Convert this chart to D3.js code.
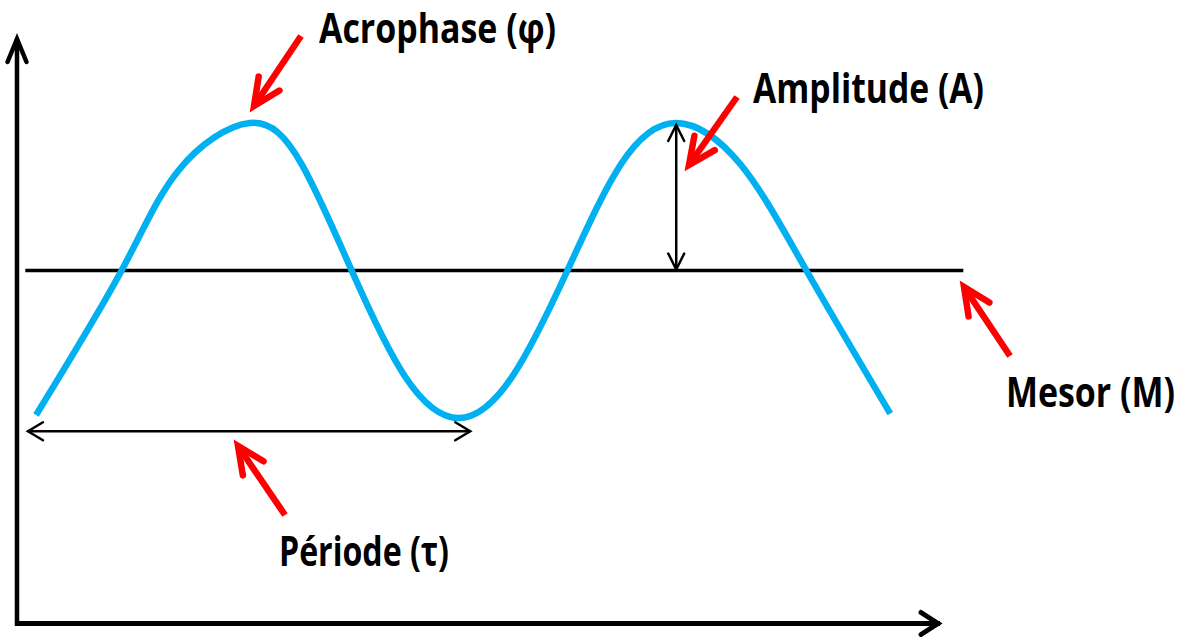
<!DOCTYPE html>
<html>
<head>
<meta charset="utf-8">
<script src="https://cdn.jsdelivr.net/npm/d3@7"></script>
<style>
    html, body { margin: 0; padding: 0; background: #fff; }
    svg { display: block; }
</style>
</head>
<body>
<div id="chart"></div>
<script>
// curve: time in hours, level in units of amplitude around the mesor
var hours  = [0, 4.8, 8, 12, 14.9, 17.7, 20.7, 23.7, 26.7, 29.8, 32.8, 35.9, 39.5, 43.2, 47.9];
var levels = [-0.98, 0, 0.68, 1, 0.72, 0, -0.72, -1, -0.72, 0, 0.72, 1, 0.72, 0, -0.97];

var mesor       = 0;
var amplitude   = 1;
var acrophase   = 35.9;           // hour of the second peak, where the amplitude is shown
var period_span = [-0.45, 24.35];  // hours covered by the period arrow
var period_lvl  = -1.09;
var mesor_span  = [-0.6, 52];

var labels = ['Acrophase (φ)', 'Amplitude (A)', 'Mesor (M)', 'Période (τ)'];

// Create SVG Element
var chart_width  = 1184;
var chart_height = 637;
var svg = d3.select( '#chart' )
    .append( 'svg' )
    .attr( 'width', chart_width )
    .attr( 'height', chart_height );

// create scales
var x_scale = d3.scaleLinear()
    .domain([0, 48])
    .range([36, 892]);

var y_scale = d3.scaleLinear()
    .domain([-1, 1])
    .range([418, 123]);

// helper: chevron head at tip, coming from tail
function head(tail, tip, len, half){
    var dx = tip[0] - tail[0], dy = tip[1] - tail[1];
    var d = Math.sqrt(dx * dx + dy * dy);
    var ux = dx / d, uy = dy / d;
    var bx = tip[0] - ux * len, by = tip[1] - uy * len;
    return 'M' + (bx - uy * half) + ',' + (by + ux * half) +
        'L' + tip[0] + ',' + tip[1] +
        'L' + (bx + uy * half) + ',' + (by - ux * half);
}

function arrow(g, tail, tip, width, color, len, half, both){
    g.append('line')
        .attr('x1', tail[0]).attr('y1', tail[1])
        .attr('x2', tip[0]).attr('y2', tip[1])
        .attr('stroke', color)
        .attr('stroke-width', width);
    g.append('path')
        .attr('d', head(tail, tip, len, half))
        .attr('fill', 'none')
        .attr('stroke', color)
        .attr('stroke-width', width)
        .attr('stroke-linecap', 'round')
        .attr('stroke-linejoin', 'miter');
    if (both) {
        g.append('path')
            .attr('d', head(tip, tail, len, half))
            .attr('fill', 'none')
            .attr('stroke', color)
            .attr('stroke-width', width)
            .attr('stroke-linecap', 'round')
            .attr('stroke-linejoin', 'miter');
    }
}

// axes (plain frame with arrow heads, no ticks)
var axes = svg.append('g');
axes.append('line')
    .attr('x1', 17).attr('y1', 623.5)
    .attr('x2', 940).attr('y2', 623.5)
    .attr('stroke', '#000')
    .attr('stroke-width', 5);
axes.append('line')
    .attr('x1', 17).attr('y1', 626)
    .attr('x2', 17).attr('y2', 39)
    .attr('stroke', '#000')
    .attr('stroke-width', 4.5);
axes.append('path')
    .attr('d', head([17, 600], [17, 39], 23, 9.5))
    .attr('fill', 'none')
    .attr('stroke', '#000')
    .attr('stroke-width', 4.5)
    .attr('stroke-linecap', 'round');
axes.append('path')
    .attr('d', head([100, 623.5], [938, 623.5], 17, 11))
    .attr('fill', 'none')
    .attr('stroke', '#000')
    .attr('stroke-width', 5)
    .attr('stroke-linecap', 'round');

// mesor line
svg.append('line')
    .attr('x1', x_scale(mesor_span[0]))
    .attr('x2', x_scale(mesor_span[1]))
    .attr('y1', y_scale(mesor))
    .attr('y2', y_scale(mesor))
    .attr('stroke', '#000')
    .attr('stroke-width', 3.5);

// rhythm curve
var points = hours.map(function(h, i){
    return [h, levels[i]];
});
var line = d3.line()
    .x(function(d){ return x_scale(d[0]); })
    .y(function(d){ return y_scale(d[1]); })
    .curve(d3.curveNatural);

svg.append('path')
    .datum(points)
    .attr('d', line)
    .attr('fill', 'none')
    .attr('stroke', '#00B0F0')
    .attr('stroke-width', 6.5);

// amplitude and period double arrows
var black = svg.append('g');
arrow(black,
    [x_scale(acrophase), y_scale(mesor) - 1],
    [x_scale(acrophase), y_scale(mesor + amplitude) + 2],
    2.5, '#000', 16, 8, true);
arrow(black,
    [x_scale(period_span[0]), y_scale(period_lvl)],
    [x_scale(period_span[1]), y_scale(period_lvl)],
    2.5, '#000', 15, 9, true);

// red pointers and labels
var notes = [
    {tail: [301, 36],  tip: [254, 106], x: 319,  y: 43,  w: 237},
    {tail: [737, 97],  tip: [689, 165], x: 753,  y: 103, w: 231},
    {tail: [1010, 356], tip: [964, 287], x: 1006, y: 407, w: 169},
    {tail: [285, 515], tip: [238, 446], x: 279,  y: 566, w: 170}
];

var red = svg.append('g');
notes.forEach(function(n, i){
    arrow(red, n.tail, n.tip, 6.5, '#FF0000', 27, 12.5, false);
    svg.append('text')
        .text(labels[i])
        .attr('x', n.x)
        .attr('y', n.y)
        .attr('textLength', n.w)
        .attr('lengthAdjust', 'spacingAndGlyphs')
        .attr('font-family', '"Open Sans", "Noto Sans", sans-serif')
        .attr('font-weight', 'bold')
        .attr('font-size', 42)
        .attr('fill', '#000');
});
</script>
</body>
</html>
